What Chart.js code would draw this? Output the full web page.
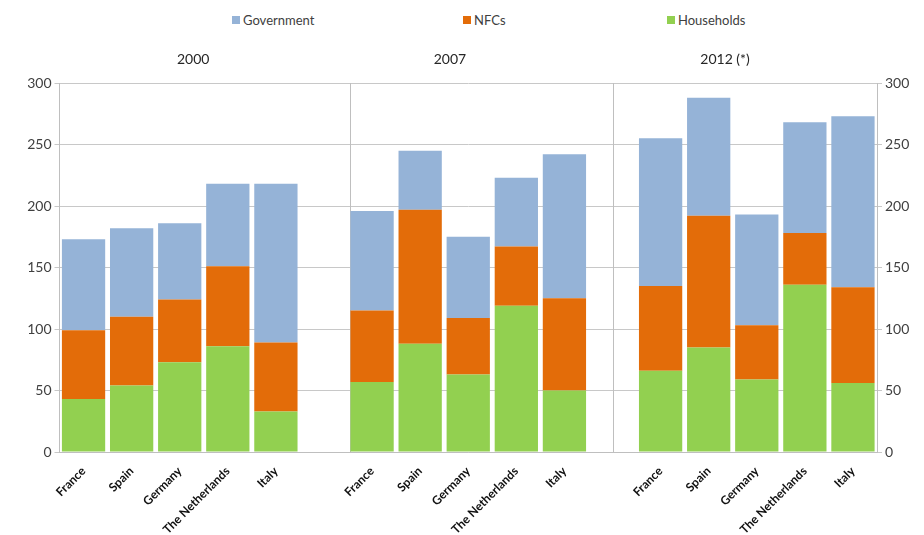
<!DOCTYPE html>
<html lang="en">
<head>
    <meta charset="UTF-8">
    <title>Debt by sector, 2000 - 2007 - 2012</title>
    <script src="https://cdn.jsdelivr.net/npm/chart.js"></script>
    <style>
        html, body { margin: 0; padding: 0; background: #fff; }
        body {
            width: 924px; height: 535px; position: relative; overflow: hidden;
            font-family: Lato, 'Open Sans', sans-serif;
        }
        #wrap { position: absolute; left: 0; top: 0; width: 924px; height: 535px; }
        .legend-item {
            position: absolute; top: 11px; height: 18px;
            display: flex; align-items: center;
            font-size: 13px; color: #404040;
        }
        .legend-item .sw { width: 8px; height: 8px; margin-right: 3px; }
    </style>
</head>
<body>
    <div class="legend-item" style="left:232px"><span class="sw" style="background:#95B3D7"></span>Government</div>
    <div class="legend-item" style="left:463px"><span class="sw" style="background:#E36C09"></span>NFCs</div>
    <div class="legend-item" style="left:667px"><span class="sw" style="background:#92D050"></span>Households</div>
    <div id="wrap"><canvas id="debtChart"></canvas></div>

    <script>
        const countries = ['France', 'Spain', 'Germany', 'The Netherlands', 'Italy'];
        const years = ['2000', '2007', '2012 (*)'];

        // % of GDP, one row per year, countries in the order above
        const households = [
            [43, 54, 73, 86, 33],
            [57, 88, 63, 119, 50],
            [66, 85, 59, 136, 56]
        ];
        const nfcs = [
            [56, 56, 51, 65, 56],
            [58, 109, 46, 48, 75],
            [69, 107, 44, 42, 78]
        ];
        const government = [
            [74, 72, 62, 67, 129],
            [81, 48, 66, 56, 117],
            [120, 96, 90, 90, 139]
        ];
        const yTicks = [0, 50, 100, 150, 200, 250, 300];

        const FONT = "Lato, 'Open Sans', sans-serif";

        // one blank slot between the year blocks
        const labels = [];
        const flat = rows => {
            const out = [];
            rows.forEach((row, i) => {
                out.push(...row);
                if (i < rows.length - 1) out.push(null);
            });
            return out;
        };
        years.forEach((y, i) => {
            labels.push(...countries);
            if (i < years.length - 1) labels.push('');
        });

        const groupDecor = {
            id: 'groupDecor',
            beforeDatasetsDraw(chart) {
                const { ctx, chartArea, scales: { x } } = chart;
                ctx.save();
                ctx.strokeStyle = '#bfbfbf';
                ctx.lineWidth = 1;
                [5.55, 11].forEach(v => {
                    const px = Math.round(x.getPixelForValue(v)) + 0.5;
                    ctx.beginPath();
                    ctx.moveTo(px, chartArea.top);
                    ctx.lineTo(px, chartArea.bottom);
                    ctx.stroke();
                });
                ctx.restore();
            },
            afterDraw(chart) {
                const { ctx, scales: { x } } = chart;
                ctx.save();
                ctx.font = '14px ' + FONT;
                ctx.fillStyle = '#262626';
                ctx.textAlign = 'center';
                ctx.textBaseline = 'middle';
                [2.28, 7.62, 13.34].forEach((v, i) => {
                    ctx.fillText(years[i], x.getPixelForValue(v), 59);
                });
                ctx.restore();
            }
        };

        const tickOpts = {
            color: '#404040',
            font: { family: FONT, size: 14 },
            stepSize: 50,
            padding: 3,
            callback: v => yTicks.includes(v) ? v : ''
        };

        new Chart(document.getElementById('debtChart'), {
            type: 'bar',
            data: {
                labels: labels,
                datasets: [
                    { label: 'Households', data: flat(households), backgroundColor: '#92D050' },
                    { label: 'NFCs', data: flat(nfcs), backgroundColor: '#E36C09' },
                    { label: 'Government', data: flat(government), backgroundColor: '#95B3D7' }
                ]
            },
            options: {
                responsive: true,
                maintainAspectRatio: false,
                animation: false,
                layout: { padding: { top: 83, left: 0, right: 0, bottom: 0 } },
                datasets: { bar: { categoryPercentage: 1, barPercentage: 0.9, borderWidth: 0 } },
                plugins: { legend: { display: false }, tooltip: { enabled: false } },
                scales: {
                    x: {
                        stacked: true,
                        grid: { display: false },
                        border: { display: true, color: '#bfbfbf' },
                        ticks: {
                            autoSkip: false, maxRotation: 45, minRotation: 45,
                            padding: 4, color: '#111111',
                            font: { family: FONT, size: 12, weight: 'bold' }
                        },
                        afterFit(s) { s.height = 83; }
                    },
                    y: {
                        stacked: true, min: 0, max: 300,
                        ticks: tickOpts,
                        grid: { color: '#c8c8c8', tickLength: 5 },
                        border: { color: '#bfbfbf' },
                        afterFit(s) { s.width = 59.5; }
                    },
                    y2: {
                        position: 'right', min: 0, max: 300,
                        ticks: tickOpts,
                        grid: { drawOnChartArea: false, color: '#c8c8c8', tickLength: 5 },
                        border: { color: '#bfbfbf' },
                        afterFit(s) { s.width = 47; }
                    }
                }
            },
            plugins: [groupDecor]
        });
    </script>
</body>
</html>
